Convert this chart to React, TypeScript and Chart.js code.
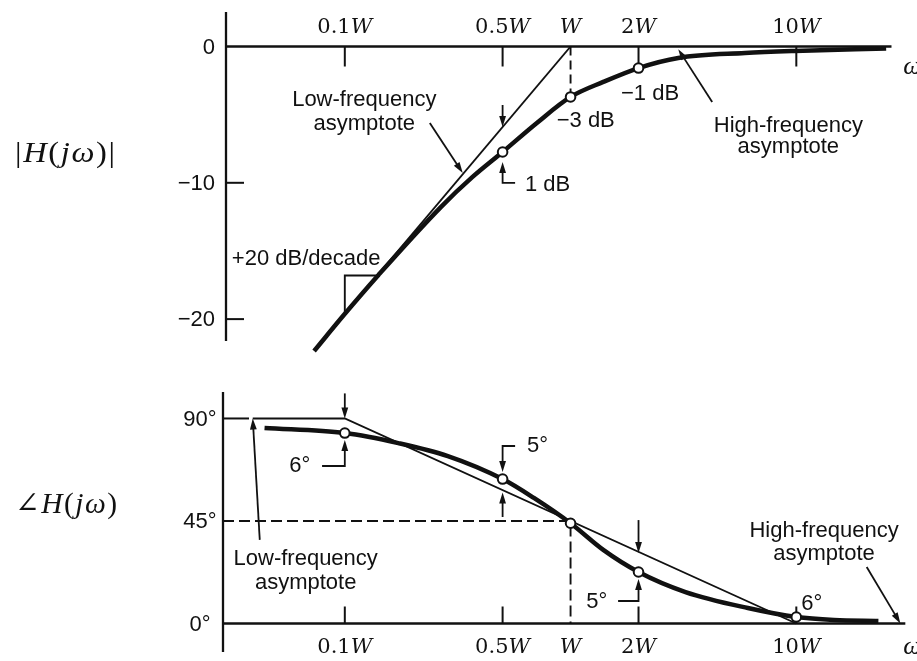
import React, { useEffect, useRef } from 'react';
import { Chart, registerables } from 'chart.js';

Chart.register(...registerables);

// ---------------- data ----------------
// frequency axis, in multiples of W
const xMin = 0.02887;
const xMax = 31.95;
const xTickValues = [0.1, 0.5, 1, 2, 10];
const xTickNumbers = ['0.1', '0.5', '', '2', '10'];
const xTickLetter = 'W';
const omegaX = 29.8;

// magnitude panel (dB)
const magMin = -23.0;
const magMax = 2.531;
const magTickValues = [0, -10, -20];
const magTickLabels = ['0', '−10', '−20'];
const magAxisEnd = -21.6;
const magAxisRight = 26.4;
const magFreq = [0.0731, 0.099, 0.141, 0.2663, 0.368, 0.5, 0.709, 1, 1.396, 2, 3.0, 5.92, 9.8, 25];
const magDb = [-22.34, -19.7, -16.76, -11.78, -9.57, -7.74, -5.61, -3.7, -2.6, -1.58, -0.84, -0.48, -0.33, -0.15];
const magAsymFreq = [0.0731, 1];
const magAsymDb = [-22.3, 0];
const magDashFreq = [1, 1];
const magDashDb = [0, -3.7];
const slopeFreq = [0.1, 0.1, 0.141];
const slopeDb = [-19.7, -16.8, -16.8];
const magMarkFreq = [0.5, 1, 2];
const magMarkDb = [-7.74, -3.7, -1.58];
const magTickMarkFreq = [0.1, 0.5, 2, 10];
const magYTickMarks = [-10, -20];
const magArrows = [
  [[0.238, -5.61], [0.333, -9.28]],
  [[0.5, -4.29], [0.5, -5.9]],
  [[0.568, -10.01], [0.5, -10.01], [0.5, -8.47]],
  [[4.24, -4.07], [3.0, -0.2]],
];
const magTexts = [
  { t: 'Low-frequency', x: 0.122, y: -4.37, a: 'center' },
  { t: 'asymptote', x: 0.122, y: -6.13, a: 'center' },
  { t: '+20 dB/decade', x: 0.0316, y: -16.03, a: 'left' },
  { t: '−3 dB', x: 0.868, y: -5.906, a: 'left' },
  { t: '−1 dB', x: 1.673, y: -3.925, a: 'left' },
  { t: '1 dB', x: 0.628, y: -10.6, a: 'left' },
  { t: 'High-frequency', x: 9.22, y: -6.27, a: 'center' },
  { t: 'asymptote', x: 9.22, y: -7.81, a: 'center' },
];

// phase panel (degrees)
const phaseMin = -12.51;
const phaseMax = 101.62;
const phaseTickValues = [90, 45, 0];
const phaseTickLabels = ['90°', '45°', '0°'];
const phaseAxisRight = 30.4;
const phaseFreq = [0.0441, 0.1, 0.1725, 0.286, 0.5, 0.688, 1, 1.396, 2, 3.23, 6.1, 10, 14.68, 23.1];
const phaseDeg = [85.8, 83.6, 79.2, 73.5, 63.4, 55.1, 44.0, 32.3, 22.6, 13.8, 6.8, 2.85, 1.54, 1.1];
const phaseAsymFreq = [0.0391, 0.1, 10];
const phaseAsymDeg = [90, 90, 0];
const phaseDashFreq = [xMin, 1, 1];
const phaseDashDeg = [45, 45, 0];
const phaseMarkFreq = [0.1, 0.5, 1, 2, 10];
const phaseMarkDeg = [83.6, 63.4, 44.0, 22.6, 2.85];
const phaseTickMarkFreq = [0.1, 0.5, 2, 10];
const phaseYTickMarks = [90];
const phaseArrows = [
  [[0.042, 36.7], [0.0391, 90]],
  [[0.1, 101], [0.1, 90]],
  [[0.0793, 69.14], [0.1, 69.14], [0.1, 80.55]],
  [[0.568, 77.92], [0.5, 77.92], [0.5, 66.51]],
  [[0.5, 46.75], [0.5, 57.5]],
  [[2, 45.4], [2, 31]],
  [[1.624, 9.88], [2, 9.88], [2, 19.53]],
  [[20.5, 24.8], [28.9, 0]],
];
const phaseTexts = [
  { t: 'Low-frequency', x: 0.0671, y: 25.68, a: 'center' },
  { t: 'asymptote', x: 0.0671, y: 15.14, a: 'center' },
  { t: 'High-frequency', x: 13.27, y: 37.97, a: 'center' },
  { t: 'asymptote', x: 13.27, y: 27.88, a: 'center' },
  { t: '6°', x: 0.0568, y: 66.51, a: 'left' },
  { t: '5°', x: 0.641, y: 75.29, a: 'left' },
  { t: '5°', x: 1.175, y: 6.8, a: 'left' },
  { t: '6°', x: 10.52, y: 5.93, a: 'left' },
];

const magTitle = [
  { t: '|' }, { t: 'H', it: true }, { t: '(' }, { t: 'j', it: true }, { t: 'ω', it: true }, { t: ')' }, { t: '|' },
];
const phaseTitle = [
  { t: '∠' }, { t: 'H', it: true }, { t: '(' }, { t: 'j', it: true }, { t: 'ω', it: true }, { t: ')' },
];

// ---------------- styling / drawing ----------------
const INK = '#111';
const SANS = '"Liberation Sans", Arial, sans-serif';
const SERIF = '"DejaVu Serif", serif';
const TEX = '"Liberation Serif", "DejaVu Serif", serif';

const pts = (xs: number[], ys: number[]) => xs.map((x, i) => ({ x, y: ys[i] }));

function drawArrow(ctx: CanvasRenderingContext2D, p: number[][]) {
  const n = p.length;
  const [x0, y0] = p[n - 2];
  const [x1, y1] = p[n - 1];
  const a = Math.atan2(y1 - y0, x1 - x0);
  const len = 11, half = 3.4;
  const bx = x1 - len * Math.cos(a), by = y1 - len * Math.sin(a);
  ctx.beginPath();
  ctx.moveTo(p[0][0], p[0][1]);
  for (let i = 1; i < n - 1; i++) ctx.lineTo(p[i][0], p[i][1]);
  ctx.lineTo(bx + 1 * Math.cos(a), by + 1 * Math.sin(a));
  ctx.stroke();
  ctx.beginPath();
  ctx.moveTo(x1, y1);
  ctx.lineTo(bx + half * Math.sin(a), by - half * Math.cos(a));
  ctx.lineTo(bx - half * Math.sin(a), by + half * Math.cos(a));
  ctx.closePath();
  ctx.fill();
}

function drawXLabel(ctx: CanvasRenderingContext2D, num: string, letter: string, cx: number, baseline: number) {
  ctx.font = `21px ${SERIF}`;
  const w1 = ctx.measureText(num).width;
  ctx.font = `italic 21px ${SERIF}`;
  const w2 = ctx.measureText(letter).width;
  let x = cx - (w1 + w2) / 2;
  ctx.textAlign = 'left';
  ctx.font = `21px ${SERIF}`;
  ctx.fillText(num, x, baseline);
  x += w1;
  ctx.font = `italic 21px ${SERIF}`;
  ctx.fillText(letter, x, baseline);
}

function drawTitle(ctx: CanvasRenderingContext2D, segs: any[], left: number, baseline: number, width: number) {
  const size = 30;
  ctx.save();
  ctx.textAlign = 'left';
  ctx.textBaseline = 'alphabetic';
  const gap = 1.5;
  const ws = segs.map((s) => {
    ctx.font = `${s.it ? 'italic ' : ''}${size}px ${TEX}`;
    return ctx.measureText(s.t).width + gap;
  });
  const total = ws.reduce((a, b) => a + b, 0) - gap;
  ctx.translate(left, baseline);
  ctx.scale(width / total, 1);
  let x = 0;
  segs.forEach((s, i) => {
    ctx.font = `${s.it ? 'italic ' : ''}${size}px ${TEX}`;
    ctx.fillText(s.t, x, 0);
    x += ws[i];
  });
  ctx.restore();
}

function decoPlugin(p: any) {
  return {
    id: 'deco',
    beforeDraw(chart: any) {
      const c = chart.ctx;
      c.save();
      c.fillStyle = '#fff';
      c.fillRect(0, 0, chart.width, chart.height);
      c.restore();
    },
    beforeDatasetsDraw(chart: any) {
      const { ctx, chartArea, scales } = chart;
      const sx = scales.x, sy = scales.y;
      const ax = chartArea.left + p.axisInset;
      const y0 = sy.getPixelForValue(0);
      ctx.save();
      ctx.strokeStyle = INK;
      ctx.fillStyle = INK;
      ctx.lineWidth = 2.3;
      ctx.beginPath();
      ctx.moveTo(ax, chartArea.top);
      ctx.lineTo(ax, p.axisEnd == null ? chartArea.bottom : sy.getPixelForValue(p.axisEnd));
      ctx.stroke();
      ctx.beginPath();
      ctx.moveTo(ax, y0);
      ctx.lineTo(sx.getPixelForValue(p.xAxisRight), y0);
      ctx.stroke();
      ctx.lineWidth = 2;
      p.xMarks.forEach((f: number) => {
        const x = sx.getPixelForValue(f);
        ctx.beginPath();
        ctx.moveTo(x, y0);
        ctx.lineTo(x, y0 + p.xMarkLen);
        ctx.stroke();
      });
      p.yMarks.forEach((v: number) => {
        const y = sy.getPixelForValue(v);
        ctx.beginPath();
        ctx.moveTo(ax, y);
        ctx.lineTo(ax + p.yMarkLen, y);
        ctx.stroke();
      });
      ctx.font = `22px ${SANS}`;
      ctx.textBaseline = 'middle';
      ctx.textAlign = p.yLabelAlign;
      p.yTickValues.forEach((v: number, i: number) => ctx.fillText(p.yTickLabels[i], p.yLabelX, sy.getPixelForValue(v) + 1));
      ctx.textBaseline = 'alphabetic';
      xTickValues.forEach((f, i) => drawXLabel(ctx, xTickNumbers[i], xTickLetter, sx.getPixelForValue(f), y0 + p.xLabelOffset));
      ctx.font = `italic 26px ${TEX}`;
      ctx.textAlign = 'left';
      ctx.fillText('ω', sx.getPixelForValue(omegaX), y0 + p.omegaOffset);
      drawTitle(ctx, p.title, p.titleLeft, p.titleBaseline, p.titleWidth);
      ctx.restore();
    },
    afterDatasetsDraw(chart: any) {
      const { ctx, scales } = chart;
      const sx = scales.x, sy = scales.y;
      ctx.save();
      ctx.strokeStyle = INK;
      ctx.fillStyle = INK;
      ctx.lineWidth = 1.8;
      p.arrows.forEach((arr: number[][]) => {
        drawArrow(ctx, arr.map(([f, v]) => [sx.getPixelForValue(f), sy.getPixelForValue(v)]));
      });
      ctx.font = `22px ${SANS}`;
      ctx.textBaseline = 'alphabetic';
      p.texts.forEach((t: any) => {
        ctx.textAlign = t.a;
        ctx.fillText(t.t, sx.getPixelForValue(t.x), sy.getPixelForValue(t.y));
      });
      ctx.restore();
    },
  };
}

const lineDs = (data: any[], width: number, extra: any = {}) => ({
  data,
  borderColor: INK,
  backgroundColor: INK,
  borderWidth: width,
  pointRadius: 0,
  fill: false,
  tension: 0,
  order: 2,
  ...extra,
});

const markDs = (data: any[]) => ({
  data,
  showLine: false,
  pointRadius: 4.8,
  pointBorderWidth: 2,
  pointBorderColor: INK,
  pointBackgroundColor: '#fff',
  order: 0,
});

function makeConfig(datasets: any[], yMin: number, yMax: number, padding: any, plugin: any): any {
  return {
    type: 'line',
    data: { datasets },
    options: {
      responsive: false,
      animation: false,
      events: [],
      layout: { padding },
      plugins: { legend: { display: false }, tooltip: { enabled: false } },
      scales: {
        x: { type: 'logarithmic', min: xMin, max: xMax, display: false },
        y: { type: 'linear', min: yMin, max: yMax, display: false },
      },
    },
    plugins: [plugin],
  };
}

export default function App() {
  const topRef = useRef<HTMLCanvasElement>(null);
  const botRef = useRef<HTMLCanvasElement>(null);

  useEffect(() => {
    const topPlugin = decoPlugin({
      axisInset: 3, axisEnd: magAxisEnd, xAxisRight: magAxisRight,
      xMarks: magTickMarkFreq, xMarkLen: 20, yMarks: magYTickMarks, yMarkLen: 18,
      yTickValues: magTickValues, yTickLabels: magTickLabels, yLabelAlign: 'right', yLabelX: 215,
      xLabelOffset: -13.5, omegaOffset: 27.5,
      arrows: magArrows, texts: magTexts,
      title: magTitle, titleLeft: 15, titleBaseline: 162, titleWidth: 100,
    });
    const botPlugin = decoPlugin({
      axisInset: 0, axisEnd: null, xAxisRight: phaseAxisRight,
      xMarks: phaseTickMarkFreq, xMarkLen: -17, yMarks: phaseYTickMarks, yMarkLen: 26,
      yTickValues: phaseTickValues, yTickLabels: phaseTickLabels, yLabelAlign: 'center', yLabelX: 200,
      xLabelOffset: 29.5, omegaOffset: 30.5,
      arrows: phaseArrows, texts: phaseTexts,
      title: phaseTitle, titleLeft: 15, titleBaseline: 133, titleWidth: 102,
    });

    const top = new Chart(
      topRef.current as HTMLCanvasElement,
      makeConfig(
        [
          markDs(pts(magMarkFreq, magMarkDb)),
          lineDs(pts(magFreq, magDb), 4.5, { cubicInterpolationMode: 'monotone', order: 1 }),
          lineDs(pts(magAsymFreq, magAsymDb), 1.9),
          lineDs(pts(slopeFreq, slopeDb), 1.9),
          lineDs(pts(magDashFreq, magDashDb), 1.9, { borderDash: [9, 5] }),
        ],
        magMin, magMax, { left: 223, right: 0, top: 12, bottom: 20 }, topPlugin,
      ),
    );
    const bot = new Chart(
      botRef.current as HTMLCanvasElement,
      makeConfig(
        [
          markDs(pts(phaseMarkFreq, phaseMarkDeg)),
          lineDs(pts(phaseFreq, phaseDeg), 4.5, { cubicInterpolationMode: 'monotone', order: 1 }),
          lineDs(pts(phaseAsymFreq, phaseAsymDeg), 1.9),
          lineDs(pts(phaseDashFreq, phaseDashDeg), 1.9, { borderDash: [11, 5] }),
        ],
        phaseMin, phaseMax, { left: 223, right: 0, top: 12, bottom: 9 }, botPlugin,
      ),
    );
    return () => {
      top.destroy();
      bot.destroy();
    };
  }, []);

  return (
    <div style={{ position: 'absolute', left: 0, top: 0, width: 917, height: 661, overflow: 'hidden', background: '#fff' }}>
      <canvas ref={topRef} width={917} height={380} style={{ position: 'absolute', left: 0, top: 0, width: 917, height: 380 }} />
      <canvas ref={botRef} width={917} height={281} style={{ position: 'absolute', left: 0, top: 380, width: 917, height: 281 }} />
    </div>
  );
}
